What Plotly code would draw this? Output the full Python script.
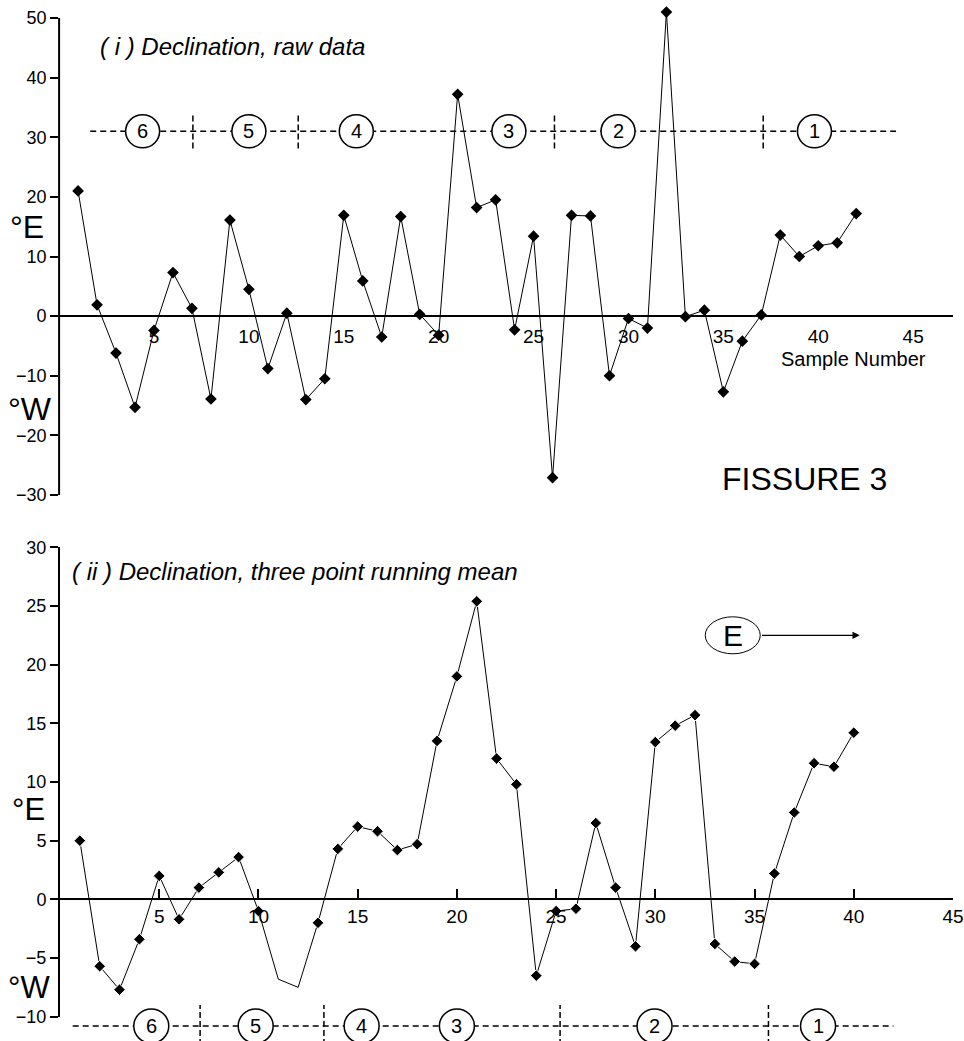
import plotly.graph_objects as go

# ---------------- data ----------------
SAMPLES_RAW = list(range(1, 43))
DECL_RAW = [21.0, 1.9, -6.2, -15.3, -2.4, 7.3, 1.3, -13.9, 16.1, 4.5,
            -8.8, 0.5, -14.0, -10.5, 16.9, 5.9, -3.5, 16.7, 0.3, -3.2,
            37.2, 18.2, 19.5, -2.3, 13.4, -27.1, 16.9, 16.8, -10.0, -0.4,
            -2.0, 51.0, -0.1, 1.0, -12.7, -4.2, 0.2, 13.6, 10.0, 11.8,
            12.3, 17.2]

SAMPLES_MEAN = list(range(1, 41))
DECL_MEAN = [5.0, -5.7, -7.7, -3.4, 2.0, -1.7, 1.0, 2.3, 3.6, -1.0,
             -6.8, -7.5, -2.0, 4.3, 6.2, 5.8, 4.2, 4.7, 13.5, 19.0,
             25.4, 12.0, 9.8, -6.5, -1.0, -0.8, 6.5, 1.0, -4.0, 13.4,
             14.8, 15.7, -3.8, -5.3, -5.5, 2.2, 7.4, 11.6, 11.3, 14.2]
MEAN_NO_MARKER = [11, 12]   # samples drawn without a symbol

ZONE_LABELS = ["6", "5", "4", "3", "2", "1"]
TOP_ZONE_CENTERS = [4.4, 10.0, 15.66, 23.7, 29.45, 39.8]
TOP_ZONE_BOUNDS = [7.05, 12.6, 26.1, 37.1]
TOP_ZONE_SPAN = [1.64, 44.1]
TOP_ZONE_LEVEL = 31

BOT_ZONE_CENTERS = [4.6, 9.86, 15.2, 20.0, 29.96, 38.2]
BOT_ZONE_BOUNDS = [7.06, 13.3, 25.2, 35.7]
BOT_ZONE_SPAN = [0.64, 42.0]
BOT_ZONE_LEVEL = -10.8

TOP_YTICKS = [-30, -20, -10, 0, 10, 20, 30, 40, 50]
BOT_YTICKS = [-10, -5, 0, 5, 10, 15, 20, 25, 30]
XTICKS = [5, 10, 15, 20, 25, 30, 35, 40, 45]

# ---------------- layout geometry ----------------
W, H = 964, 1041
FONT = "Liberation Sans, Arial, sans-serif"

TOP_PX_PER_UNIT = (495 - 18) / 80.0
TOP_XDOM = [59.1 / W, 953 / W]
TOP_XR = [0, 47.1]
TOP_YR = [-30, 52.5]            # headroom so the 51° peak is not clipped
TOP_YDOM = [1 - 495 / H, 1 - (18 - 2.5 * TOP_PX_PER_UNIT) / H]
TOP_AXIS_SPAN = [-30, 50]        # visible extent of the vertical axis line

BOT_XDOM = [60 / W, 953 / W]
BOT_XR = [0, 45]
BOT_YDOM = [1 - 1016.7 / H, 1 - 547.3 / H]
BOT_YR = [-10, 30]


def ypaper(v, dom, rng):
    return dom[0] + (v - rng[0]) / (rng[1] - rng[0]) * (dom[1] - dom[0])


def px_x(p):
    return p / W


def px_y(p):
    return 1 - p / H


fig = go.Figure()

fig.add_trace(go.Scatter(
    x=SAMPLES_RAW, y=DECL_RAW, mode="lines+markers",
    line=dict(color="black", width=1),
    marker=dict(symbol="diamond", size=9, color="black", opacity=1),
    xaxis="x", yaxis="y", showlegend=False, hoverinfo="skip"))

mean_sizes = [0 if s in MEAN_NO_MARKER else 9 for s in SAMPLES_MEAN]
fig.add_trace(go.Scatter(
    x=SAMPLES_MEAN, y=DECL_MEAN, mode="lines+markers",
    line=dict(color="black", width=1),
    marker=dict(symbol="diamond", size=mean_sizes, color="black", opacity=1),
    xaxis="x2", yaxis="y2", showlegend=False, hoverinfo="skip"))

shapes = []
annotations = []

# ---- top vertical axis line (only from -30 to 50) ----
shapes.append(dict(type="line", xref="paper", yref="y",
                   x0=TOP_XDOM[0], x1=TOP_XDOM[0],
                   y0=TOP_AXIS_SPAN[0], y1=TOP_AXIS_SPAN[1],
                   line=dict(color="black", width=2)))

# ---- zone markers, top panel (data coordinates) ----
shapes.append(dict(type="line", xref="x", yref="y",
                   x0=TOP_ZONE_SPAN[0], x1=TOP_ZONE_SPAN[1],
                   y0=TOP_ZONE_LEVEL, y1=TOP_ZONE_LEVEL,
                   line=dict(color="black", width=1.5, dash="6px,4px")))
for b in TOP_ZONE_BOUNDS:
    shapes.append(dict(type="line", xref="x", yref="y", x0=b, x1=b,
                       y0=TOP_ZONE_LEVEL - 2.9, y1=TOP_ZONE_LEVEL + 3.0,
                       line=dict(color="black", width=1.5, dash="6px,3px")))
for c, lab in zip(TOP_ZONE_CENTERS, ZONE_LABELS):
    shapes.append(dict(type="circle", xref="x", yref="y",
                       xsizemode="pixel", ysizemode="pixel",
                       xanchor=c, yanchor=TOP_ZONE_LEVEL,
                       x0=-17, x1=17, y0=-16.5, y1=16.5,
                       fillcolor="white", line=dict(color="black", width=1.5)))
    annotations.append(dict(x=c, y=TOP_ZONE_LEVEL, xref="x", yref="y",
                            text=lab, showarrow=False,
                            font=dict(size=20, color="black", family=FONT)))

# ---- zone markers, bottom panel (below the axis range) ----
bz = ypaper(BOT_ZONE_LEVEL, BOT_YDOM, BOT_YR)
shapes.append(dict(type="line", xref="x2", yref="paper",
                   x0=BOT_ZONE_SPAN[0], x1=BOT_ZONE_SPAN[1], y0=bz, y1=bz,
                   line=dict(color="black", width=1.5, dash="6px,4px")))
for b in BOT_ZONE_BOUNDS:
    shapes.append(dict(type="line", xref="x2", yref="paper", x0=b, x1=b,
                       y0=px_y(1045), y1=px_y(1005),
                       line=dict(color="black", width=1.5, dash="6px,3px")))
for c, lab in zip(BOT_ZONE_CENTERS, ZONE_LABELS):
    shapes.append(dict(type="circle", xref="x2", yref="paper",
                       xsizemode="pixel", ysizemode="pixel",
                       xanchor=c, yanchor=bz,
                       x0=-17.5, x1=17.5, y0=-17, y1=17,
                       fillcolor="white", line=dict(color="black", width=1.5)))
    annotations.append(dict(x=c, y=bz, xref="x2", yref="paper",
                            text=lab, showarrow=False, yanchor="middle",
                            font=dict(size=20, color="black", family=FONT)))

# ---- E ellipse with arrow ----
E_X, E_Y = 33.9, 22.5
shapes.append(dict(type="circle", xref="x2", yref="y2",
                   xsizemode="pixel", ysizemode="pixel",
                   xanchor=E_X, yanchor=E_Y,
                   x0=-27.5, x1=27.5, y0=-18.5, y1=18.5,
                   fillcolor="white", line=dict(color="black", width=1)))
annotations.append(dict(x=E_X, y=E_Y, xref="x2", yref="y2", text="E",
                        showarrow=False,
                        font=dict(size=30, color="black", family=FONT)))
annotations.append(dict(x=40.3, y=E_Y, xref="x2", yref="y2",
                        ax=35.3, ay=E_Y, axref="x2", ayref="y2",
                        text="", showarrow=True, arrowhead=2,
                        arrowsize=1.2, arrowwidth=1.2, arrowcolor="black"))

# ---- texts ----
def txt(text, x, y, size, xanchor="left", italic=False):
    annotations.append(dict(
        x=px_x(x), y=px_y(y), xref="paper", yref="paper",
        text=f"<i>{text}</i>" if italic else text, showarrow=False,
        xanchor=xanchor, yanchor="middle",
        font=dict(size=size, color="black", family=FONT)))

txt("( i ) Declination, raw data", 98, 47, 24, italic=True)
txt("( ii ) Declination, three point running mean", 70, 571, 24, italic=True)
txt("°E", 8, 227, 32)
txt("°W", 6, 409, 32)
txt("°E", 10, 809, 31)
txt("°W", 6, 987, 31)
txt("Sample Number", 853, 359, 20, xanchor="center")
txt("FISSURE 3", 804, 479, 32, xanchor="center")

axis_common = dict(showgrid=False, zeroline=False, color="black",
                   automargin=False,
                   tickfont=dict(size=18, color="black", family=FONT))
xfont = dict(size=19, color="black", family=FONT)

fig.update_layout(
    width=W, height=H,
    margin=dict(l=0, r=0, t=0, b=0, pad=0, autoexpand=False),
    paper_bgcolor="white", plot_bgcolor="white",
    font=dict(family=FONT, color="black"),
    shapes=shapes, annotations=annotations,
    xaxis=dict(domain=TOP_XDOM, range=TOP_XR, anchor="free",
               position=ypaper(0, TOP_YDOM, TOP_YR),
               showline=True, linewidth=2, linecolor="black",
               tickvals=XTICKS, ticks="outside", ticklen=3,
               tickcolor="rgba(0,0,0,0)",
               **{**axis_common, "tickfont": xfont}),
    yaxis=dict(domain=TOP_YDOM, range=TOP_YR, anchor="x",
               showline=False,
               tickvals=TOP_YTICKS, ticks="outside", ticklen=8, tickwidth=2,
               **axis_common),
    xaxis2=dict(domain=BOT_XDOM, range=BOT_XR, anchor="free",
                position=ypaper(0, BOT_YDOM, BOT_YR),
                showline=True, linewidth=2, linecolor="black",
                tickvals=XTICKS, ticks="inside", ticklen=9, tickwidth=2,
                **{**axis_common, "tickfont": xfont}),
    yaxis2=dict(domain=BOT_YDOM, range=BOT_YR, anchor="x2",
                showline=True, linewidth=2, linecolor="black",
                tickvals=BOT_YTICKS, ticks="outside", ticklen=8, tickwidth=2,
                **axis_common),
)

fig.write_html("out.html")
